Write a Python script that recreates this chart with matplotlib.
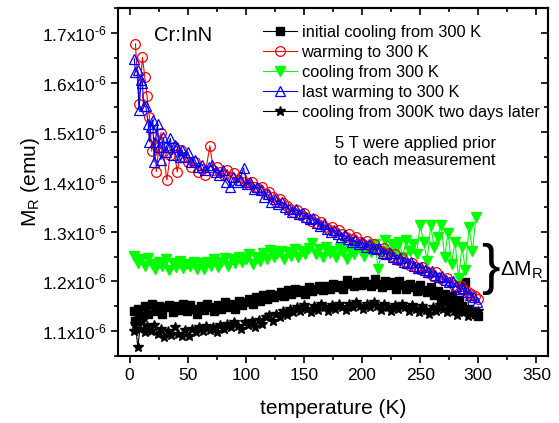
import matplotlib
matplotlib.use("Agg")
import matplotlib.pyplot as plt
from matplotlib.ticker import MultipleLocator, FuncFormatter

plt.rcParams['font.family'] = ['Liberation Sans', 'DejaVu Sans']
plt.rcParams['mathtext.fontset'] = 'custom'
plt.rcParams['mathtext.rm'] = 'Liberation Sans'
plt.rcParams['mathtext.it'] = 'Liberation Sans:italic'
plt.rcParams['mathtext.bf'] = 'Liberation Sans:bold'

# ---------------- data (M in units of 1e-6 emu) ----------------
T_init = [4, 5, 7, 10, 13, 16, 19, 22, 25, 28, 31, 34, 37, 40, 43, 46, 49, 52, 55, 58,
          61, 64, 67, 70, 73, 76, 79, 82, 85, 88, 91, 94, 97, 100, 103, 106, 109, 112, 115, 118,
          121, 124, 127, 130, 133, 136, 139, 142, 145, 148, 151, 154, 157, 160, 163, 166, 169, 172, 175, 178,
          181, 184, 187, 190, 193, 196, 199, 202, 205, 208, 211, 214, 217, 220, 223, 226, 229, 232, 235, 238,
          241, 244, 247, 250, 253, 256, 259, 262, 265, 268, 271, 274, 277, 280, 283, 286, 289, 292, 295, 298, 300]
M_init = [1.140, 1.120, 1.145, 1.130, 1.150, 1.135, 1.155, 1.140, 1.150, 1.135, 1.148, 1.152, 1.138, 1.150, 1.142, 1.155, 1.140, 1.152, 1.145, 1.135,
          1.150, 1.142, 1.155, 1.148, 1.140, 1.152, 1.145, 1.158, 1.148, 1.155, 1.145, 1.160, 1.152, 1.158, 1.165, 1.155, 1.168, 1.160, 1.172, 1.165,
          1.175, 1.168, 1.172, 1.178, 1.170, 1.182, 1.175, 1.185, 1.178, 1.182, 1.175, 1.188, 1.180, 1.185, 1.190, 1.182, 1.190, 1.185, 1.195, 1.188,
          1.192, 1.185, 1.202, 1.195, 1.190, 1.198, 1.192, 1.200, 1.195, 1.190, 1.205, 1.195, 1.188, 1.200, 1.192, 1.198, 1.185, 1.200, 1.192, 1.185,
          1.195, 1.188, 1.180, 1.192, 1.182, 1.178, 1.188, 1.172, 1.180, 1.165, 1.175, 1.160, 1.170, 1.155, 1.162, 1.150, 1.199, 1.145, 1.140, 1.135, 1.130]

T_warm = [5, 8, 11, 13, 15, 17, 19, 21, 23, 25, 27, 29, 32, 35, 38, 41, 44, 47, 50, 53,
          56, 59, 62, 65, 69, 72, 75, 78, 81, 84, 87, 90, 93, 96, 99, 102, 105, 108, 111, 114,
          117, 120, 123, 126, 129, 132, 135, 138, 141, 144, 147, 150, 153, 156, 159, 162, 165, 168, 171, 174,
          177, 180, 183, 186, 189, 192, 195, 198, 201, 204, 207, 210, 213, 216, 219, 222, 225, 228, 231, 234,
          237, 240, 243, 246, 249, 252, 255, 258, 261, 264, 267, 270, 273, 276, 279, 282, 285, 288, 291, 294, 297, 300]
M_warm = [1.678, 1.556, 1.651, 1.612, 1.572, 1.531, 1.462, 1.490, 1.421, 1.470, 1.499, 1.460, 1.404, 1.455, 1.470, 1.420, 1.465, 1.450, 1.440, 1.430,
          1.440, 1.420, 1.427, 1.415, 1.473, 1.425, 1.430, 1.420, 1.415, 1.425, 1.410, 1.418, 1.405, 1.410, 1.400, 1.395, 1.400, 1.390, 1.385, 1.390,
          1.375, 1.380, 1.370, 1.360, 1.365, 1.358, 1.352, 1.346, 1.340, 1.344, 1.334, 1.338, 1.328, 1.322, 1.326, 1.316, 1.320, 1.310, 1.306, 1.310,
          1.300, 1.304, 1.296, 1.290, 1.295, 1.286, 1.290, 1.280, 1.276, 1.281, 1.271, 1.276, 1.266, 1.262, 1.267, 1.257, 1.252, 1.255, 1.244, 1.248,
          1.239, 1.234, 1.238, 1.229, 1.226, 1.230, 1.220, 1.216, 1.211, 1.218, 1.207, 1.202, 1.206, 1.198, 1.193, 1.188, 1.191, 1.182, 1.179, 1.174, 1.170, 1.165]

T_cool = [4, 7, 10, 13, 16, 19, 22, 25, 28, 31, 34, 37, 40, 43, 46, 49, 52, 55, 58, 61,
          64, 67, 70, 73, 76, 79, 82, 85, 88, 91, 94, 97, 100, 103, 106, 109, 112, 115, 118, 121,
          124, 127, 130, 133, 136, 139, 142, 145, 148, 151, 154, 157, 160, 163, 166, 169, 172, 175, 178, 181,
          184, 187, 190, 193, 196, 199, 202, 205, 208, 211, 214, 217, 220, 223, 226, 229, 232, 235, 238, 241,
          244, 247, 250, 253, 256, 259, 262, 265, 268, 271, 274, 277, 280, 283, 286, 289, 292, 295, 298]
M_cool = [1.252, 1.238, 1.245, 1.232, 1.248, 1.235, 1.226, 1.240, 1.232, 1.245, 1.222, 1.238, 1.230, 1.242, 1.228, 1.235, 1.232, 1.240, 1.225, 1.238,
          1.226, 1.240, 1.232, 1.245, 1.230, 1.240, 1.248, 1.232, 1.245, 1.238, 1.250, 1.240, 1.245, 1.255, 1.236, 1.250, 1.242, 1.258, 1.245, 1.263,
          1.250, 1.258, 1.262, 1.245, 1.260, 1.252, 1.265, 1.250, 1.262, 1.255, 1.268, 1.277, 1.255, 1.265, 1.250, 1.270, 1.258, 1.262, 1.250, 1.268,
          1.260, 1.246, 1.265, 1.255, 1.270, 1.262, 1.252, 1.270, 1.260, 1.275, 1.226, 1.262, 1.283, 1.258, 1.275, 1.265, 1.280, 1.250, 1.283, 1.262,
          1.275, 1.255, 1.313, 1.280, 1.242, 1.313, 1.270, 1.290, 1.313, 1.250, 1.297, 1.236, 1.280, 1.206, 1.270, 1.222, 1.310, 1.262, 1.330]

T_last = [4, 5, 7, 8, 10, 11, 12, 14, 16, 17, 18, 20, 21, 22, 24, 25, 27, 29, 31, 33,
          35, 37, 39, 41, 43, 45, 47, 50, 53, 56, 59, 62, 65, 68, 71, 74, 77, 80, 83, 86,
          89, 92, 95, 98, 101, 104, 107, 110, 113, 116, 119, 122, 125, 128, 131, 134, 137, 140, 143, 146,
          149, 152, 155, 158, 161, 164, 167, 170, 173, 176, 179, 182, 185, 188, 191, 194, 197, 200, 203, 206,
          209, 212, 215, 218, 221, 224, 227, 230, 233, 236, 239, 242, 245, 248, 251, 254, 257, 260, 263, 266,
          269, 272, 275, 278, 281, 284, 287, 290, 293, 296, 299]
M_last = [1.648, 1.622, 1.625, 1.545, 1.605, 1.600, 1.553, 1.552, 1.517, 1.481, 1.510, 1.525, 1.440, 1.480, 1.517, 1.470, 1.445, 1.490, 1.460, 1.470,
          1.488, 1.455, 1.475, 1.470, 1.450, 1.465, 1.450, 1.461, 1.440, 1.445, 1.430, 1.435, 1.425, 1.430, 1.434, 1.420, 1.415, 1.425, 1.400, 1.390,
          1.410, 1.400, 1.405, 1.428, 1.395, 1.400, 1.385, 1.390, 1.384, 1.370, 1.375, 1.360, 1.365, 1.355, 1.360, 1.350, 1.345, 1.340, 1.345, 1.335,
          1.338, 1.330, 1.325, 1.328, 1.318, 1.312, 1.315, 1.305, 1.300, 1.303, 1.295, 1.290, 1.293, 1.285, 1.280, 1.283, 1.275, 1.280, 1.270, 1.275,
          1.268, 1.265, 1.268, 1.258, 1.255, 1.258, 1.250, 1.245, 1.248, 1.240, 1.238, 1.240, 1.232, 1.228, 1.230, 1.222, 1.218, 1.220, 1.212, 1.208,
          1.210, 1.202, 1.198, 1.200, 1.190, 1.185, 1.187, 1.178, 1.172, 1.168, 1.158]

T_later = [4, 5, 7, 9, 11, 13, 15, 18, 21, 24, 27, 30, 33, 36, 39, 42, 45, 48, 51, 54,
           57, 60, 63, 66, 69, 72, 75, 78, 81, 84, 87, 90, 93, 96, 99, 102, 105, 108, 111, 114,
           117, 120, 123, 126, 129, 132, 135, 138, 141, 144, 147, 150, 153, 156, 159, 162, 165, 168, 171, 174,
           177, 180, 183, 186, 189, 192, 195, 198, 201, 204, 207, 210, 213, 216, 219, 222, 225, 228, 231, 234,
           237, 240, 243, 246, 249, 252, 255, 258, 261, 264, 267, 270, 273, 276, 279, 282, 285, 288, 291, 294, 297, 300]
M_later = [1.100, 1.115, 1.069, 1.105, 1.120, 1.098, 1.110, 1.100, 1.112, 1.095, 1.105, 1.088, 1.100, 1.092, 1.108, 1.095, 1.090, 1.102, 1.090, 1.105,
           1.098, 1.108, 1.100, 1.110, 1.102, 1.108, 1.098, 1.112, 1.105, 1.115, 1.108, 1.118, 1.110, 1.105, 1.118, 1.112, 1.120, 1.108, 1.122, 1.115,
           1.128, 1.132, 1.120, 1.135, 1.128, 1.140, 1.132, 1.145, 1.138, 1.148, 1.140, 1.152, 1.145, 1.138, 1.150, 1.142, 1.155, 1.148, 1.140, 1.152,
           1.145, 1.155, 1.148, 1.142, 1.155, 1.148, 1.158, 1.150, 1.145, 1.155, 1.148, 1.158, 1.150, 1.142, 1.155, 1.148, 1.140, 1.152, 1.145, 1.155,
           1.148, 1.140, 1.152, 1.145, 1.138, 1.150, 1.142, 1.135, 1.148, 1.140, 1.152, 1.145, 1.138, 1.148, 1.140, 1.132, 1.145, 1.138, 1.130, 1.142, 1.135, 1.140]

labels = ["initial cooling from 300 K", "warming to 300 K", "cooling from 300 K",
          "last warming to 300 K", "cooling from 300K two days later"]
x_ticks = [0, 50, 100, 150, 200, 250, 300, 350]
y_ticks = [1.1, 1.2, 1.3, 1.4, 1.5, 1.6, 1.7]

def sc(v):
    return [a * 1e-6 for a in v]

fig = plt.figure(figsize=(5.59, 4.23), dpi=100)
ax = fig.add_axes([118/559, 1-356/423, 430/559, 348/423])

ax.plot(T_init, sc(M_init), '-', color='black', lw=0.8, marker='s', ms=6.0,
        mfc='black', mec='black', label=labels[0], zorder=2)
ax.plot(T_warm, sc(M_warm), '-', color='#FF0000', lw=0.8, marker='o', ms=7,
        mfc='none', mec='#FF0000', mew=0.9, label=labels[1], zorder=3)
ax.plot(T_cool, sc(M_cool), '-', color='#00FF00', lw=0.8, marker='v', ms=7.5,
        mfc='#00FF00', mec='#00FF00', label=labels[2], zorder=2.5)
ax.plot(T_last, sc(M_last), '-', color='#0000FF', lw=0.8, marker='^', ms=7.5,
        mfc='none', mec='#0000FF', mew=0.9, label=labels[3], zorder=4)
ax.plot(T_later, sc(M_later), '-', color='black', lw=0.8, marker='*', ms=7.5,
        mfc='black', mec='black', label=labels[4], zorder=2.2)

ax.set_xlim(-10, 360)
ax.set_ylim(1.05e-6, 1.75e-6)
ax.set_xticks(x_ticks)
ax.set_yticks(sc(y_ticks))
ax.xaxis.set_minor_locator(MultipleLocator(25))
ax.yaxis.set_minor_locator(MultipleLocator(0.05e-6))
ax.yaxis.set_major_formatter(FuncFormatter(lambda v, p: f'{v*1e6:.1f}x10$^{{\\text{{-}}6}}$'))

for s in ax.spines.values():
    s.set_linewidth(1.5)
ax.tick_params(axis='both', which='major', direction='out', length=5, width=1.2, labelsize=12.5)
ax.tick_params(axis='y', which='major', labelsize=12.5, pad=3)
ax.tick_params(axis='both', which='minor', direction='out', length=3, width=1.2)
sec_x = ax.secondary_xaxis('top')
sec_x.set_xticks(x_ticks)
sec_x.xaxis.set_minor_locator(MultipleLocator(25))
sec_x.tick_params(which='major', direction='in', length=5, width=1.2, labeltop=False)
sec_x.tick_params(which='minor', direction='in', length=3, width=1.2)
sec_y = ax.secondary_yaxis('right')
sec_y.set_yticks(sc(y_ticks))
sec_y.yaxis.set_minor_locator(MultipleLocator(0.05e-6))
sec_y.tick_params(which='major', direction='in', length=5, width=1.2, labelright=False)
sec_y.tick_params(which='minor', direction='in', length=3, width=1.2)
for s in list(sec_x.spines.values()) + list(sec_y.spines.values()):
    s.set_linewidth(1.5)

ax.set_xlabel('temperature (K)', fontsize=15, labelpad=12)
ax.set_ylabel(r'M$_\mathrm{R}$ (emu)', fontsize=15, labelpad=0)

ax.text(0.084, 0.922, 'Cr:InN', transform=ax.transAxes, fontsize=14.5, ha='left', va='center')
ax.text(0.691, 0.586, '5 T were applied prior\nto each measurement', transform=ax.transAxes,
        fontsize=12, ha='center', va='center', multialignment='center', linespacing=1.2)
ax.text(310.8, 1.2244e-6, '}', fontsize=40, ha='center', va='center')
ax.text(319, 1.222e-6, r'ΔM$_\mathrm{R}$', fontsize=15, ha='left', va='center')

leg = ax.legend(loc='upper left', bbox_to_anchor=(263/559, 1-25/423), bbox_transform=fig.transFigure,
                frameon=False, fontsize=11.8, handlelength=2.1, handletextpad=0.25,
                labelspacing=0.3, borderpad=0, borderaxespad=0, numpoints=1)

fig.savefig('out.png', dpi=100)
